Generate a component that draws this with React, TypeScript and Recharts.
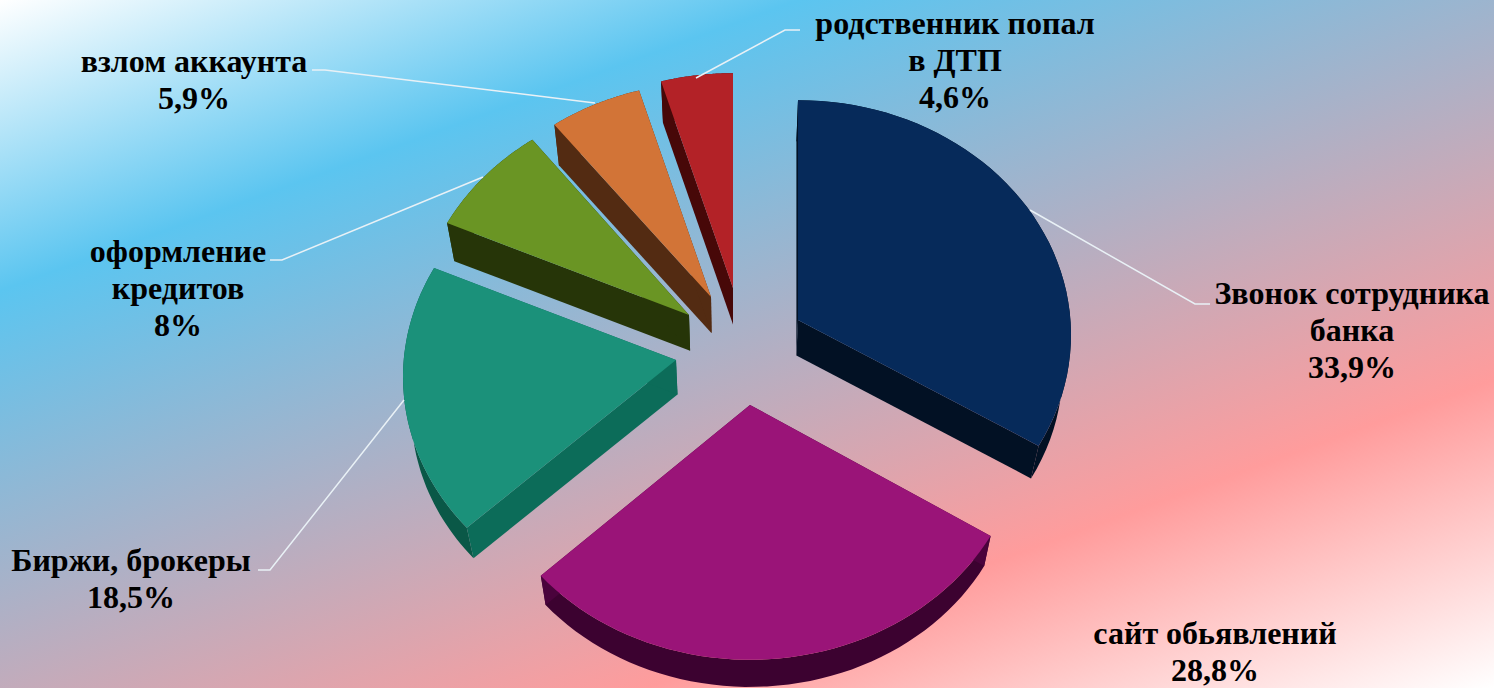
import { Pie, PieChart } from "recharts";

const categories = [
  "Звонок сотрудника банка",
  "сайт обьявлений",
  "Биржи, брокеры",
  "оформление кредитов",
  "взлом аккаунта",
  "родственник попал в ДТП",
];
const values = [33.9, 28.8, 18.5, 8, 5.9, 4.6];
const valueLabels = ["33,9%", "28,8%", "18,5%", "8%", "5,9%", "4,6%"];

// label text split the way the slide wraps it
const labelLines = [
  ["Звонок сотрудника", "банка", "33,9%"],
  ["сайт обьявлений", "28,8%"],
  ["Биржи, брокеры", "18,5%"],
  ["оформление", "кредитов", "8%"],
  ["взлом аккаунта", "5,9%"],
  ["родственник попал", "в ДТП", "4,6%"],
];
const labelX = [1352, 1215, 131, 178, 194, 955];
const labelY = [304, 644, 571, 262, 72, 34];
const leaders: number[][][] = [
  [[1030, 210], [1195, 304], [1210, 304]],
  [],
  [[404, 400], [270, 570], [258, 570]],
  [[483, 177], [282, 260], [270, 260]],
  [[595, 103], [325, 70], [312, 70]],
  [[696, 78], [785, 30], [800, 30]],
];

const topColors = ["#062a5a", "#9a1478", "#1b917a", "#6a9524", "#d27437", "#b32227"];
const sideColors = ["#021124", "#4a033c", "#0c6c59", "#263508", "#532b12", "#470808"];
const rimColors = ["#021124", "#3c0230", "#0a5847", "#263508", "#532b12", "#470808"];
// how far each slice is pulled out of the pie
const explodeX = [63, 15, -59, -46, -24, -2];
const explodeY = [-30, 60, 12, -33, -48, -57];
const apexNudge = [5, 0, 3, 3, 0, 0];

const WIDTH = 1494;
const HEIGHT = 688;
const CX = 735;
const CY = 345;
const RADIUS = 272;
const SQUASH = 0.857;
const PERSPECTIVE = 0.085;

const tableData = categories.map((name, i) => ({
  name,
  value: values[i],
  label: valueLabels[i],
}));

type Pt = [number, number];

const toPath = (pts: Pt[]) =>
  pts.map((p, i) => `${i ? "L" : "M"}${p[0].toFixed(1)},${p[1].toFixed(1)}`).join("") + "Z";

// extrusion goes down and slightly towards the middle, thicker at the back
const lower = ([x, y]: Pt): Pt => [x - (x - CX) * 0.025, y + 35 - (y - CY) * 0.025];

const Slice3D = (props: any) => {
  const { cx, cy, outerRadius, startAngle, endAngle, index } = props;
  const ax = cx + explodeX[index];
  const ay = cy + explodeY[index];

  const rim: Pt[] = [];
  const steps = 48;
  for (let i = 0; i <= steps; i++) {
    const a = (startAngle + ((endAngle - startAngle) * i) / steps) * (Math.PI / 180);
    const s = 1 / (1 + PERSPECTIVE * Math.sin(a));
    rim.push([
      ax + outerRadius * Math.cos(a) * s,
      ay - outerRadius * SQUASH * Math.sin(a) * s,
    ]);
  }
  const apex: Pt = [ax, ay + apexNudge[index]];
  const first = rim[0];
  const last = rim[rim.length - 1];
  const rimWall = [...rim, ...rim.map(lower).reverse()];
  const wallA = [apex, first, lower(first), lower(apex)];
  const wallB = [apex, last, lower(last), lower(apex)];

  return (
    <g>
      <path d={toPath(rimWall)} fill={rimColors[index]} />
      <path d={toPath(wallA)} fill={sideColors[index]} />
      <path d={toPath(wallB)} fill={sideColors[index]} />
      <path d={toPath([apex, ...rim])} fill={topColors[index]} />
    </g>
  );
};

const renderLabel = ({ index }: any) => (
  <text
    textAnchor="middle"
    fontFamily="'Liberation Serif', serif"
    fontWeight="bold"
    fontSize={32}
    fill="#000"
  >
    {labelLines[index].map((line, i) => (
      <tspan key={line} x={labelX[index]} y={labelY[index] + i * 37}>
        {line}
      </tspan>
    ))}
  </text>
);

const renderLeader = ({ index }: any) =>
  leaders[index].length ? (
    <polyline
      points={leaders[index].map((p) => p.join(",")).join(" ")}
      fill="none"
      stroke="#e9f1f6"
      strokeWidth={1.5}
    />
  ) : (
    <g />
  );

export default function App() {
  return (
    <div
      style={{
        position: "absolute",
        left: 0,
        top: 0,
        width: WIDTH,
        height: HEIGHT,
        overflow: "hidden",
        background:
          "linear-gradient(160deg, #ffffff 0%, #5bc5f0 23.6%, #ff9c9c 75%, #ffffff 100%)",
      }}
    >
      <PieChart
        width={WIDTH}
        height={HEIGHT}
        margin={{ top: 0, right: 0, bottom: 0, left: 0 }}
      >
        <Pie
          data={tableData}
          dataKey="value"
          nameKey="name"
          cx={CX}
          cy={CY}
          outerRadius={RADIUS}
          startAngle={90}
          endAngle={-270}
          stroke="none"
          shape={Slice3D}
          label={renderLabel}
          labelLine={renderLeader}
          isAnimationActive={false}
        />
      </PieChart>
    </div>
  );
}
